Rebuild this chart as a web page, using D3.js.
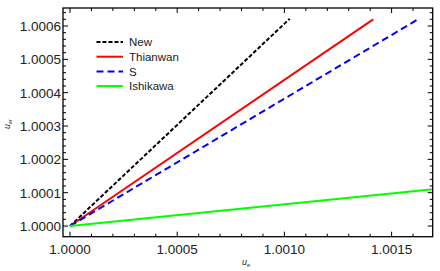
<!DOCTYPE html>
<html>
<head>
<meta charset="utf-8">
<script src="https://cdn.jsdelivr.net/npm/d3@7"></script>
<style>
  body { margin: 0; background: #fff; }
  svg { display: block; font-family: "Liberation Sans", Arial, sans-serif; }
</style>
</head>
<body>
<svg id="chart" width="440" height="271"></svg>
<script>
// series: straight lines from (1,1) to their end points
const seriesNames = ["New", "Thianwan", "S", "Ishikawa"];
const seriesColors = ["#000000", "#ff0000", "#0000ff", "#00ff00"];
const seriesDash = ["4,2", null, "7,4", null];
const xStart = [1.0, 1.0, 1.0, 1.0];
const yStart = [1.0, 1.0, 1.0, 1.0];
const xEnd = [1.001025, 1.001414, 1.001623, 1.00172];
const yEnd = [1.000622, 1.00062, 1.00062, 1.000112];

const xTicks = [1.0000, 1.0005, 1.0010, 1.0015];
const yTicks = [1.0000, 1.0001, 1.0002, 1.0003, 1.0004, 1.0005, 1.0006];

const svg = d3.select("#chart");
const fLeft = 63, fRight = 432.7, fTop = 8, fBottom = 236.7;

const x = d3.scaleLinear().domain([0.9999673, 1.0016917]).range([fLeft, fRight]);
const y = d3.scaleLinear().domain([0.999968, 1.000654]).range([fBottom, fTop]);
const fmt = d3.format(".4f");

svg.append("clipPath").attr("id", "clip")
  .append("rect").attr("x", fLeft).attr("y", fTop)
  .attr("width", fRight - fLeft).attr("height", fBottom - fTop);

// lines
const line = d3.line().x(d => x(d[0])).y(d => y(d[1]));
const plot = svg.append("g").attr("clip-path", "url(#clip)");
seriesNames.forEach((name, i) => {
  plot.append("path")
    .datum([[xStart[i], yStart[i]], [xEnd[i], yEnd[i]]])
    .attr("d", line)
    .attr("fill", "none")
    .attr("stroke", seriesColors[i])
    .attr("stroke-width", 2)
    .attr("stroke-dasharray", seriesDash[i]);
});

// frame
svg.append("rect")
  .attr("x", fLeft).attr("y", fTop)
  .attr("width", fRight - fLeft).attr("height", fBottom - fTop)
  .attr("fill", "none").attr("stroke", "#000").attr("stroke-width", 1.3);

// ticks (major + minor) on all four sides, pointing inward
const xMinor = d3.range(0, 18).map(k => 1 + k * 0.0001);
const yMinor = d3.range(0, 33).map(k => 1 + k * 0.00002);
const isMajorX = v => xTicks.some(t => Math.abs(t - v) < 1e-9);
const isMajorY = v => yTicks.some(t => Math.abs(t - v) < 1e-9);
const ticks = svg.append("g").attr("stroke", "#000").attr("stroke-width", 1);
xMinor.filter(v => x(v) < fRight).forEach(v => {
  const len = isMajorX(v) ? 5 : 3;
  const px = x(v);
  ticks.append("line").attr("x1", px).attr("x2", px).attr("y1", fBottom).attr("y2", fBottom - len);
  ticks.append("line").attr("x1", px).attr("x2", px).attr("y1", fTop).attr("y2", fTop + len);
});
yMinor.filter(v => y(v) > fTop).forEach(v => {
  const len = isMajorY(v) ? 5 : 3;
  const py = y(v);
  ticks.append("line").attr("x1", fLeft).attr("x2", fLeft + len).attr("y1", py).attr("y2", py);
  ticks.append("line").attr("x1", fRight).attr("x2", fRight - len).attr("y1", py).attr("y2", py);
});

// tick labels
svg.append("g").selectAll("text").data(yTicks).join("text")
  .attr("x", fLeft - 2).attr("y", d => y(d)).attr("dy", "0.36em")
  .attr("text-anchor", "end").attr("font-size", 13.5).attr("fill", "#222")
  .text(fmt);
svg.append("g").selectAll("text").data(xTicks).join("text")
  .attr("x", d => x(d)).attr("y", fBottom + 17.5)
  .attr("text-anchor", "middle").attr("font-size", 13.5).attr("fill", "#222")
  .text(fmt);

// axis labels
const xl = svg.append("text").attr("x", 242).attr("y", 265).attr("font-size", 9)
  .attr("font-style", "italic").attr("fill", "#222");
xl.append("tspan").text("u");
xl.append("tspan").attr("font-size", 5.5).attr("dy", 1.5).text("e");
const yl = svg.append("text").attr("transform", "translate(10,129) rotate(-90)")
  .attr("font-size", 9).attr("font-style", "italic").attr("fill", "#222");
yl.append("tspan").text("u");
yl.append("tspan").attr("font-size", 5.5).attr("dy", 1.5).text("ei");

// legend
const legend = svg.append("g");
seriesNames.forEach((name, i) => {
  const ly = 42 + i * 14.7;
  legend.append("line").attr("x1", 96.5).attr("x2", 123).attr("y1", ly).attr("y2", ly)
    .attr("stroke", seriesColors[i]).attr("stroke-width", 2)
    .attr("stroke-dasharray", seriesDash[i]);
  legend.append("text").attr("x", 129).attr("y", ly).attr("dy", "0.36em")
    .attr("font-size", 11.5).attr("fill", "#222").text(name);
});
</script>
</body>
</html>
